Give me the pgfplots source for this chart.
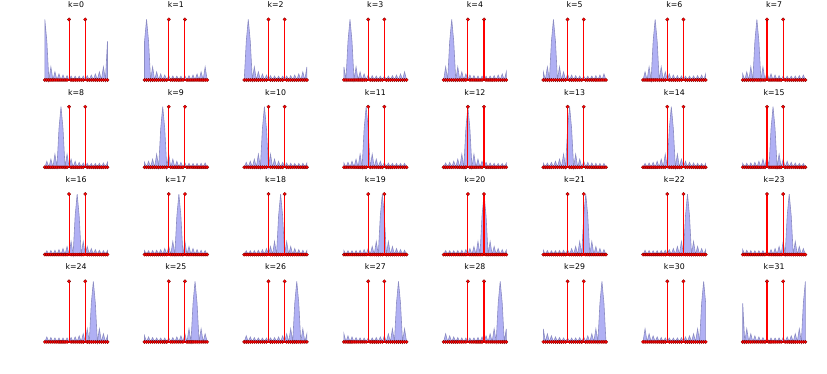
\documentclass[border=0pt]{standalone}
\usepackage{pgfplots}
\pgfplotsset{compat=1.18}
\usepackage{pgfplotstable}
\usepackage{fontspec}
\setmainfont{DejaVu Sans}
\definecolor{bfill}{RGB}{176,176,244}
\definecolor{bedge}{RGB}{140,140,195}
\definecolor{sedge}{RGB}{120,0,0}
% magnitude of the bin response, by offset m from the bin
\pgfplotstableread{
m v
-31 0.6376
-30 0
-29 0.2153
-28 0
-27 0.1326
-26 0
-25 0.0985
-24 0
-23 0.0809
-22 0
-21 0.0709
-20 0
-19 0.0653
-18 0
-17 0.0628
-16 0
-15 0.0628
-14 0
-13 0.0653
-12 0
-11 0.0709
-10 0
-9 0.0809
-8 0
-7 0.0985
-6 0
-5 0.1326
-4 0
-3 0.2153
-2 0
-1 0.6376
0 1.0
1 0.6376
2 0
3 0.2153
4 0
5 0.1326
6 0
7 0.0985
8 0
9 0.0809
10 0
11 0.0709
12 0
13 0.0653
14 0
15 0.0628
16 0
17 0.0628
18 0
19 0.0653
20 0
21 0.0709
22 0
23 0.0809
24 0
25 0.0985
26 0
27 0.1326
28 0
29 0.2153
30 0
31 0.6376
}\kernel
\pgfplotstableread{
x y
0 0
1 0
2 0
3 0
4 0
5 0
6 0
7 0
8 0
9 0
10 0
11 0
12 1
13 0
14 0
15 0
16 0
17 0
18 0
19 0
20 1
21 0
22 0
23 0
24 0
25 0
26 0
27 0
28 0
29 0
30 0
31 0
}\stems
\begin{document}
\begin{tikzpicture}
\useasboundingbox (0,0) rectangle (827pt,373pt);
\foreach \k in {0,...,31} {
  \pgfmathtruncatemacro\col{mod(\k,8)}
  \pgfmathtruncatemacro\row{int(\k/8)}
  \pgfmathsetmacro\xp{41.7+99.7*\col}
  \pgfmathsetmacro\yp{290-87.3*\row}
  \begin{axis}[
    at={(\xp pt,\yp pt)}, anchor=south west,
    scale only axis, width=68.9pt, height=66.6pt,
    xmin=-1.55, xmax=32.55, ymin=-0.05, ymax=1.05,
    axis lines=none, ticks=none, clip=false,
    title={k=\k},
    title style={at={(0.5,1)}, anchor=base, yshift=2.6pt, font=\fontsize{7.8}{9}\selectfont, inner sep=0pt},
  ]
    \addplot[draw=bedge, line width=0.6pt, fill=bfill, restrict x to domain=0:31]
      table[x expr=\thisrow{m}+\k, y=v] {\kernel} \closedcycle;
    \addplot[red, line width=2.2pt, no marks] coordinates {(0,0) (31,0)};
    \addplot[ycomb, red, line width=1.1pt, mark=*, mark size=1.7pt,
      mark options={fill=red, draw=sedge, line width=0.3pt}]
      table[x=x, y=y] {\stems};
  \end{axis}
}
\end{tikzpicture}
\end{document}
